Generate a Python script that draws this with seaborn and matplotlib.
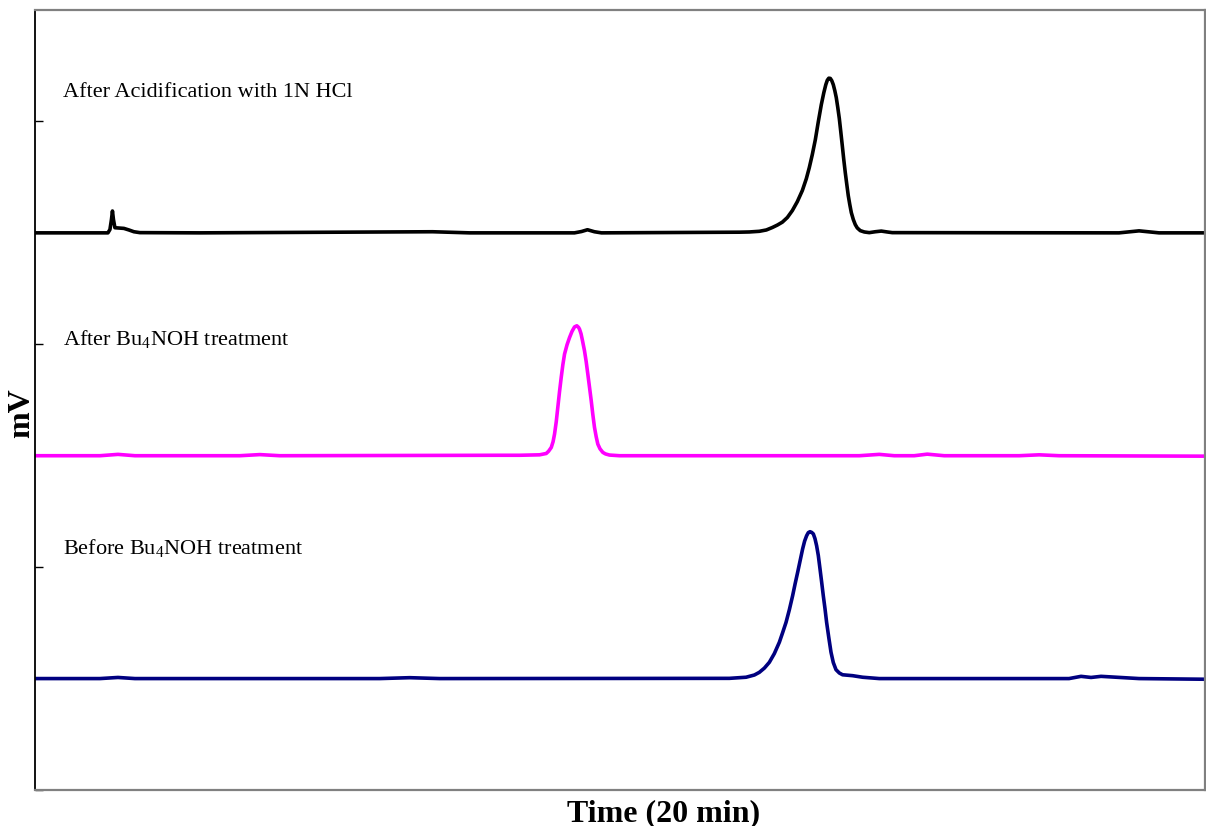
import matplotlib
matplotlib.use("Agg")
import matplotlib.pyplot as plt
import pandas as pd
import seaborn as sns

# Chromatogram traces: time (min) and signal above baseline (mV)
acid_time = [0.0, 1.247, 1.281, 1.307, 1.324, 1.341, 1.366, 1.418, 1.520, 1.605, 1.691, 1.793,
             2.818, 6.797, 7.429, 9.222, 9.342, 9.444, 9.563, 9.683,
             12.041, 12.211, 12.382, 12.502, 12.604, 12.690, 12.775, 12.861, 12.946, 13.031,
             13.117, 13.185, 13.236, 13.287, 13.339, 13.390, 13.441, 13.484, 13.518, 13.544,
             13.569, 13.595, 13.620, 13.646, 13.672, 13.697, 13.723, 13.749, 13.774, 13.800,
             13.825, 13.851, 13.877, 13.902, 13.928, 13.954, 13.988, 14.022, 14.056, 14.107,
             14.176, 14.261, 14.363, 14.466, 14.568, 14.654,
             18.531, 18.873, 19.214, 20.0]
acid_signal = [0, 0, 1.5, 6.0, 9.8, 6.0, 2.3, 2.2, 2.0, 1.3, 0.5, 0.1,
               0, 0.5, 0, 0, 0.6, 1.4, 0.5, 0,
               0.3, 0.4, 0.7, 1.3, 2.4, 3.5, 4.8, 6.9, 10.0, 14.0,
               19.0, 24.3, 29.3, 35.1, 41.8, 49.9, 57.5, 62.9, 66.5, 68.5,
               69.4, 69.3, 68.3, 66.5, 63.8, 60.7, 56.2, 51.3, 45.4, 39.1,
               32.9, 27.0, 21.7, 16.7, 12.7, 9.1, 6.0, 3.7, 2.2, 1.0,
               0.4, 0.1, 0.5, 0.8, 0.4, 0.1,
               0, 0.9, 0, 0]

after_time = [0.0, 1.110, 1.418, 1.708, 3.501, 3.843, 4.184, 7.941,
              8.283, 8.625, 8.739, 8.779, 8.825, 8.856, 8.881, 8.910, 8.937, 8.966,
              8.995, 9.023, 9.052, 9.095, 9.137, 9.180, 9.223, 9.262, 9.291, 9.308,
              9.334, 9.359, 9.393, 9.422, 9.450, 9.479, 9.508, 9.535, 9.564, 9.593,
              9.621, 9.658, 9.706, 9.752, 9.820, 9.991,
              14.090, 14.432, 14.688, 15.030, 15.252, 15.542, 16.823, 17.165, 17.506, 20.0]
after_signal = [0, 0, 0.6, 0, 0, 0.5, 0, 0.2,
                0.2, 0.4, 1.0, 2.0, 3.7, 6.3, 9.7, 15.2, 21.7, 28.7,
                35.1, 40.8, 45.6, 49.8, 53.0, 55.8, 57.8, 58.3, 57.6, 56.8,
                54.7, 51.6, 47.1, 42.2, 36.6, 30.7, 24.7, 18.6, 12.7, 8.5,
                5.2, 3.1, 1.5, 0.8, 0.3, 0,
                0, 0.6, 0, 0, 0.7, 0, 0, 0.4, 0, -0.2]

before_time = [0.0, 1.110, 1.418, 1.708, 5.892, 6.405, 6.917,
               11.870, 12.155, 12.297, 12.382, 12.468, 12.553, 12.638, 12.724, 12.780, 12.838,
               12.895, 12.951, 12.994, 13.037, 13.079, 13.122, 13.156, 13.190, 13.219, 13.248,
               13.276, 13.305, 13.333, 13.361, 13.390, 13.419, 13.446, 13.475, 13.504, 13.532,
               13.569, 13.607, 13.646, 13.692, 13.749, 13.805, 13.976, 14.147, 14.432,
               17.676, 17.881, 18.052, 18.223, 18.873, 20.0]
before_signal = [0, 0, 0.5, 0, 0, 0.4, 0,
                 0.1, 0.6, 1.6, 2.8, 4.7, 7.3, 11.2, 16.3, 20.6, 25.2,
                 30.9, 37.2, 42.6, 47.7, 52.9, 58.2, 61.7, 64.1, 65.5, 65.9,
                 65.6, 64.9, 62.8, 59.6, 55.2, 49.2, 43.5, 37.2, 31.4, 25.2,
                 18.4, 11.8, 7.2, 4.0, 2.5, 1.7, 1.3, 0.6, 0,
                 0, 1.0, 0.5, 1.0, 0, -0.3]

trace_names = ["After Acidification with 1N HCl",
               r"After Bu$_\mathregular{4}$NOH treatment",
               r"Before Bu$_\mathregular{4}$NOH treatment"]
trace_offsets = [250, 150, 50]
trace_colors = ["black", "#FF00FF", "#000080"]
label_heights = [313, 202, 108.5]

frames = []
for name, t, s, off in zip(trace_names,
                           [acid_time, after_time, before_time],
                           [acid_signal, after_signal, before_signal],
                           trace_offsets):
    frames.append(pd.DataFrame({"time": t, "mV": [v + off for v in s], "trace": name}))
df = pd.concat(frames, ignore_index=True)

sns.set_style("white")
plt.rcParams["font.family"] = ["Liberation Serif", "DejaVu Serif"]
plt.rcParams["mathtext.fontset"] = "custom"
plt.rcParams["mathtext.rm"] = "Liberation Serif"

fig = plt.figure(figsize=(12.06, 8.26), dpi=100)
ax = fig.add_axes([35 / 1206, 1 - 790 / 826, 1170 / 1206, 780 / 826])

sns.lineplot(data=df, x="time", y="mV", hue="trace", hue_order=trace_names,
             palette=dict(zip(trace_names, trace_colors)), estimator=None, sort=False,
             linewidth=2.6, legend=False, ax=ax)
for line in ax.lines:
    line.set_solid_joinstyle("round")
    line.set_solid_capstyle("round")

for name, h in zip(trace_names, label_heights):
    ax.text(0.48, h, name, fontsize=16, va="center", ha="left", color="black")

ax.set_xlim(0, 20)
ax.set_ylim(0, 350)
ax.set_xticks([])
ax.set_yticks([0, 100, 200, 300])
ax.set_yticklabels([])
ax.tick_params(axis="y", direction="in", length=6, width=1, color="black", left=True)

ax.spines["left"].set_color("black")
ax.spines["left"].set_linewidth(1.3)
for side in ["top", "right", "bottom"]:
    ax.spines[side].set_color("#808080")
    ax.spines[side].set_linewidth(1.6)

ax.set_xlabel("Time (20 min)", fontsize=23, fontweight="bold", color="black")
ax.xaxis.set_label_coords(0.5376, -0.012)
ax.set_ylabel("mV", fontsize=23, fontweight="bold", color="black")
ax.yaxis.set_label_coords(0.001, 0.483)

plt.savefig("out.png", dpi=100)
plt.close()
